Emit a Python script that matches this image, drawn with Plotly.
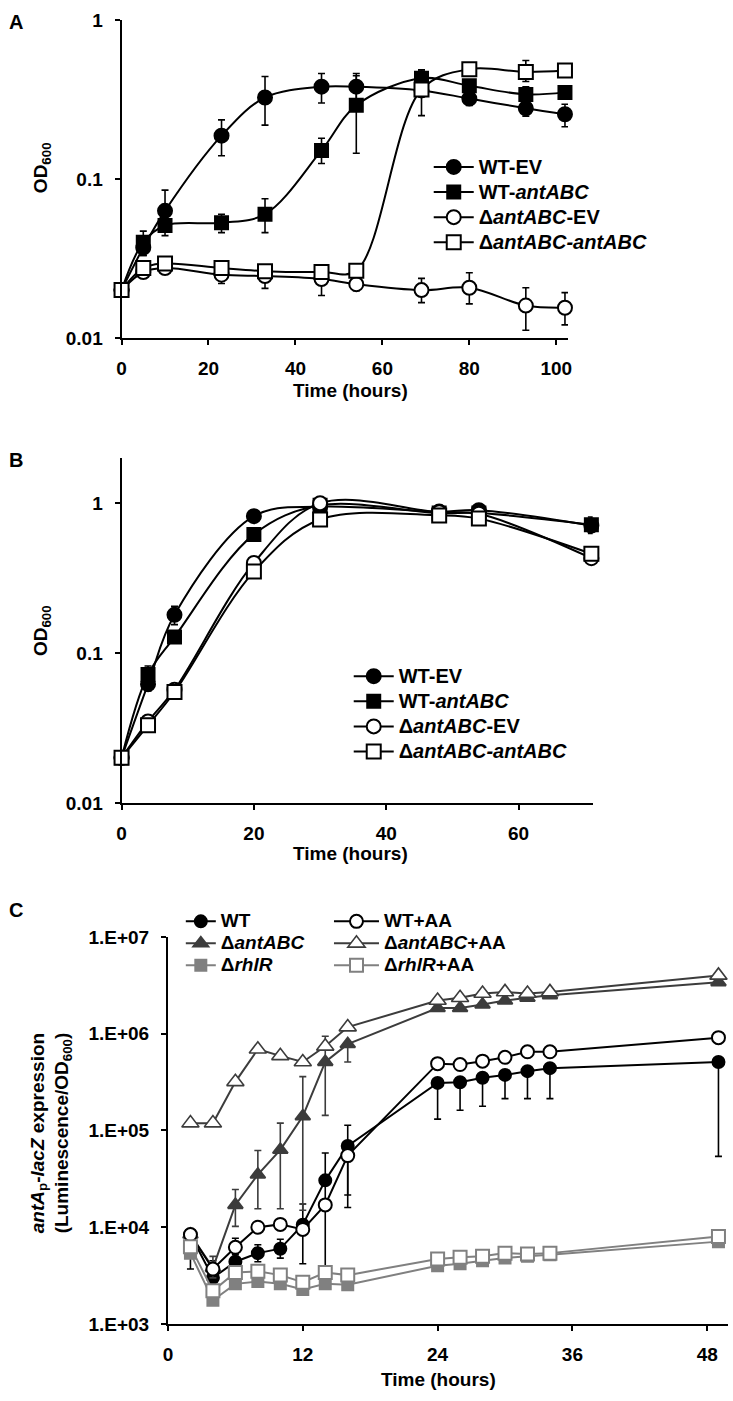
import plotly.graph_objects as go

W, H = 733, 1401
FONT = "Arial, Liberation Sans, sans-serif"

# ---------------- Panel A data ----------------
tA = [0, 5, 10, 23, 33, 46, 54, 69, 80, 93, 102]
A_wt_ev = [0.02, 0.037, 0.063, 0.187, 0.325, 0.38, 0.38, 0.36, 0.32, 0.278, 0.255]
A_wt_ev_ep = [0, 0.004, 0.022, 0.048, 0.115, 0.08, 0.08, 0.03, 0.03, 0.03, 0.04]
A_wt_ev_em = [0, 0.004, 0.012, 0.047, 0.107, 0.08, 0.08, 0.03, 0.03, 0.03, 0.042]
A_wt_ant = [0.02, 0.04, 0.051, 0.053, 0.06, 0.151, 0.29, 0.43, 0.385, 0.34, 0.35]
A_wt_ant_ep = [0, 0.007, 0.004, 0.007, 0.015, 0.029, 0.155, 0.055, 0.03, 0.04, 0.03]
A_wt_ant_em = [0, 0.007, 0.007, 0.007, 0.014, 0.026, 0.145, 0.05, 0.03, 0.04, 0.03]
A_d_ev = [0.02, 0.026, 0.0275, 0.025, 0.0245, 0.0235, 0.0218, 0.020, 0.0207, 0.016, 0.0155]
A_d_ev_ep = [0, 0.002, 0.002, 0.003, 0.003, 0.003, 0.002, 0.0037, 0.005, 0.0047, 0.0038]
A_d_ev_em = [0, 0.002, 0.002, 0.003, 0.004, 0.005, 0.002, 0.0033, 0.0043, 0.0048, 0.0034]
A_d_ant = [0.02, 0.0275, 0.0294, 0.0275, 0.0263, 0.026, 0.0265, 0.365, 0.49, 0.47, 0.48]
A_d_ant_ep = [0, 0.001, 0.001, 0.001, 0.001, 0.001, 0.001, 0.12, 0.03, 0.085, 0.02]
A_d_ant_em = [0, 0.001, 0.001, 0.001, 0.001, 0.001, 0.001, 0.115, 0.03, 0.06, 0.02]

# ---------------- Panel B data ----------------
tB = [0, 4, 8, 20, 30, 48, 54, 71]
B_wt_ev = [0.02, 0.062, 0.18, 0.82, 0.95, 0.88, 0.90, 0.71]
B_wt_ev_e = [0, 0.006, 0.025, 0.03, 0.03, 0.03, 0.03, 0.07]
B_wt_ant = [0.02, 0.072, 0.128, 0.62, 0.97, 0.86, 0.86, 0.72]
B_wt_ant_e = [0, 0.01, 0.01, 0.03, 0.03, 0.03, 0.03, 0.09]
B_d_ev = [0.02, 0.035, 0.057, 0.40, 1.0, 0.87, 0.85, 0.43]
B_d_ev_e = [0, 0.002, 0.003, 0.02, 0.03, 0.03, 0.03, 0.02]
B_d_ant = [0.02, 0.033, 0.055, 0.35, 0.78, 0.83, 0.79, 0.46]
B_d_ant_e = [0, 0.002, 0.003, 0.02, 0.03, 0.03, 0.03, 0.03]

# ---------------- Panel C data ----------------
tC = [2, 4, 6, 8, 10, 12, 14, 16, 24, 26, 28, 30, 32, 34, 49]
C_wt = [8400, 3000, 4400, 5400, 6000, 10600, 30500, 69000, 310000, 315000, 350000, 375000, 410000, 440000, 510000]
C_wt_ep = [0, 1500, 800, 1200, 1500, 6800, 28000, 44000, 0, 0, 0, 0, 0, 0, 0]
C_wt_em = [4700, 500, 600, 1000, 1200, 6400, 28000, 53000, 179000, 153000, 172000, 162000, 197000, 227000, 456000]
C_dant = [8400, 3800, 17000, 35000, 63000, 140000, 510000, 780000, 1840000, 1840000, 2000000, 2200000, 2350000, 2500000, 3400000]
C_dant_ep = [0, 1200, 7500, 27000, 56000, 220000, 430000, 0, 0, 0, 0, 0, 0, 0, 0]
C_dant_em = [0, 800, 6800, 19500, 47500, 125000, 367000, 270000, 0, 0, 0, 0, 0, 0, 0]
C_rhl = [5400, 1760, 2600, 2750, 2600, 2270, 2600, 2550, 4000, 4200, 4500, 4800, 5000, 5200, 7100]
C_wt_aa = [8400, 3700, 6200, 10000, 10700, 9500, 17000, 55000, 490000, 480000, 520000, 570000, 650000, 650000, 910000]
C_wt_aa_ep = [0, 0, 1500, 0, 0, 0, 0, 0, 0, 0, 0, 0, 0, 0, 0]
C_wt_aa_em = [0, 0, 1500, 0, 0, 0, 0, 33500, 0, 0, 0, 0, 0, 0, 0]
C_dant_aa = [119000, 119000, 318000, 690000, 590000, 510000, 740000, 1170000, 2200000, 2350000, 2600000, 2700000, 2600000, 2700000, 4000000]
C_rhl_aa = [6300, 2200, 3400, 3500, 3200, 2700, 3400, 3200, 4700, 4900, 5000, 5400, 5300, 5400, 8000]

legA = ["WT-EV", "WT-<i>antABC</i>", "Δ<i>antABC</i>-EV", "Δ<i>antABC-antABC</i>"]
legC = ["WT", "Δ<i>antABC</i>", "Δ<i>rhlR</i>", "WT+AA", "Δ<i>antABC</i>+AA", "Δ<i>rhlR</i>+AA"]


def big(s, px=20):
    return '<span style="font-size:%dpx"><b>%s</b></span>' % (px, s)


def px_x(p):
    return p / W


def px_y(p):
    return 1 - p / H


fig = go.Figure()


def add(x, y, name, xa, ya, legend, symbol, fill, lcol, size, shape, ep=None, em=None, ecol="black", mlw=2):
    err = None
    if ep is not None:
        err = dict(type="data", array=ep, arrayminus=em if em is not None else ep, symmetric=False,
                   color=ecol, thickness=1.6, width=3.5)
    fig.add_trace(go.Scatter(
        x=x, y=y, name=name, xaxis=xa, yaxis=ya, legend=legend, mode="lines+markers",
        line=dict(color=lcol, width=2, shape=shape, smoothing=1.0 if shape == "spline" else None),
        marker=dict(symbol=symbol, size=size, color=fill, line=dict(color=lcol, width=mlw)),
        error_y=err, cliponaxis=False))


# Panel A
add(tA, A_wt_ev, big(legA[0]), "x", "y", "legend", "circle", "black", "black", 14, "spline", A_wt_ev_ep, A_wt_ev_em)
add(tA, A_wt_ant, big(legA[1]), "x", "y", "legend", "square", "black", "black", 13, "spline", A_wt_ant_ep, A_wt_ant_em)
add(tA, A_d_ev, big(legA[2]), "x", "y", "legend", "circle", "white", "black", 14, "spline", A_d_ev_ep, A_d_ev_em)
add(tA, A_d_ant, big(legA[3]), "x", "y", "legend", "square", "white", "black", 14, "spline", A_d_ant_ep, A_d_ant_em)

# Panel B
add(tB, B_wt_ev, big(legA[0]), "x2", "y2", "legend2", "circle", "black", "black", 14, "spline", B_wt_ev_e)
add(tB, B_wt_ant, big(legA[1]), "x2", "y2", "legend2", "square", "black", "black", 13, "spline", B_wt_ant_e)
add(tB, B_d_ev, big(legA[2]), "x2", "y2", "legend2", "circle", "white", "black", 14, "spline", B_d_ev_e)
add(tB, B_d_ant, big(legA[3]), "x2", "y2", "legend2", "square", "white", "black", 14, "spline", B_d_ant_e)

# Panel C
DG = "#3c3c3c"
GR = "#808080"
add(tC, C_wt, big(legC[0], 19), "x3", "y3", "legend3", "circle", "black", "black", 12, "linear", C_wt_ep, C_wt_em)
add(tC, C_dant, big(legC[1], 19), "x3", "y3", "legend3", "triangle-up", DG, DG, 13, "linear", C_dant_ep, C_dant_em, DG)
add(tC, C_rhl, big(legC[2], 19), "x3", "y3", "legend3", "square", GR, GR, 11, "linear")
add(tC, C_wt_aa, big(legC[3], 19), "x3", "y3", "legend4", "circle", "white", "black", 13, "linear", C_wt_aa_ep, C_wt_aa_em)
add(tC, C_dant_aa, big(legC[4], 19), "x3", "y3", "legend4", "triangle-up", "white", DG, 15, "linear", mlw=1.6)
add(tC, C_rhl_aa, big(legC[5], 19), "x3", "y3", "legend4", "square", "white", GR, 13, "linear")

tickfont = dict(family=FONT, size=19, color="black")
axis_common = dict(showline=True, linewidth=2, linecolor="black", ticks="outside", ticklen=5,
                   tickwidth=2, tickcolor="black", showgrid=False, zeroline=False, tickfont=tickfont)
xstand = dict(ticklabelstandoff=7)
ystand = dict(ticklabelstandoff=8)


def leg(x, y, fsize, iw):
    return dict(x=px_x(x), y=px_y(y), font=dict(family=FONT, size=fsize, color="black"),
                bgcolor="rgba(0,0,0,0)", tracegroupgap=0, itemwidth=iw, xanchor="left", yanchor="top")


fig.update_layout(
    width=W, height=H, margin=dict(l=0, r=0, t=0, b=0),
    paper_bgcolor="white", plot_bgcolor="white",
    font=dict(family=FONT, color="black"),
    xaxis=dict(domain=[px_x(118), px_x(570)], range=[0, 102.7], anchor="y",
               tickvals=[0, 20, 40, 60, 80, 100], ticktext=["<b>%d</b>" % v for v in [0, 20, 40, 60, 80, 100]],
               **axis_common, **xstand),
    yaxis=dict(domain=[px_y(333), px_y(10)], type="log", range=[-2, 0], anchor="x",
               tickvals=[0.01, 0.1, 1], ticktext=["<b>0.01</b>", "<b>0.1</b>", "<b>1</b>"],
               **axis_common, **ystand),
    xaxis2=dict(domain=[px_x(118), px_x(595)], range=[0, 71.2], anchor="y2",
                tickvals=[0, 20, 40, 60], ticktext=["<b>%d</b>" % v for v in [0, 20, 40, 60]],
                **axis_common, **xstand),
    yaxis2=dict(domain=[px_y(805), px_y(455)], type="log", range=[-2, 0.301], anchor="x2",
                tickvals=[0.01, 0.1, 1], ticktext=["<b>0.01</b>", "<b>0.1</b>", "<b>1</b>"],
                **axis_common, **ystand),
    xaxis3=dict(domain=[px_x(165), px_x(732)], range=[0, 49.85], anchor="y3",
                tickvals=[0, 12, 24, 36, 48], ticktext=["<b>%d</b>" % v for v in [0, 12, 24, 36, 48]],
                **axis_common, **xstand),
    yaxis3=dict(domain=[px_y(1334), px_y(941)], type="log", range=[3, 7], anchor="x3",
                tickvals=[1e3, 1e4, 1e5, 1e6, 1e7],
                ticktext=["<b>1.E+03</b>", "<b>1.E+04</b>", "<b>1.E+05</b>", "<b>1.E+06</b>", "<b>1.E+07</b>"],
                **axis_common, **ystand),
    legend=leg(429, 141.5, 17, 40),
    legend2=leg(348, 658.5, 17, 40),
    legend3=leg(178, 909, 14.6, 30),
    legend4=leg(328, 909, 14.6, 45),
    showlegend=True,
)

ann = []


def text(x, y, s, size=19, angle=0, xanchor="center", yanchor="middle"):
    ann.append(dict(x=px_x(x), y=px_y(y), xref="paper", yref="paper", text=s, showarrow=False,
                    font=dict(family=FONT, size=size, color="black"), textangle=angle,
                    xanchor=xanchor, yanchor=yanchor))


text(2, 12, "<b>A</b>", 20, xanchor="left")
text(2, 457, "<b>B</b>", 20, xanchor="left")
text(2, 914, "<b>C</b>", 20, xanchor="left")
text(37, 160, "<b>OD<sub>600</sub></b>", 19, angle=-90)
text(37, 630, "<b>OD<sub>600</sub></b>", 19, angle=-90)
text(350, 386, "<b>Time (hours)</b>", 19)
text(350, 856, "<b>Time (hours)</b>", 19)
text(439, 1390, "<b>Time (hours)</b>", 19)
text(47, 1140, "<b><i>antA</i><sub>p</sub>-<i>lacZ</i> expression<br>(Luminescence/OD<sub>600</sub>)</b>", 19, angle=-90)
fig.update_layout(annotations=ann)

fig.write_html("out.html", config={"displayModeBar": False}, post_script=(
    "document.body.style.margin='0';document.body.style.padding='0';"
    "document.body.style.overflow='hidden';document.documentElement.style.overflow='hidden';"))
